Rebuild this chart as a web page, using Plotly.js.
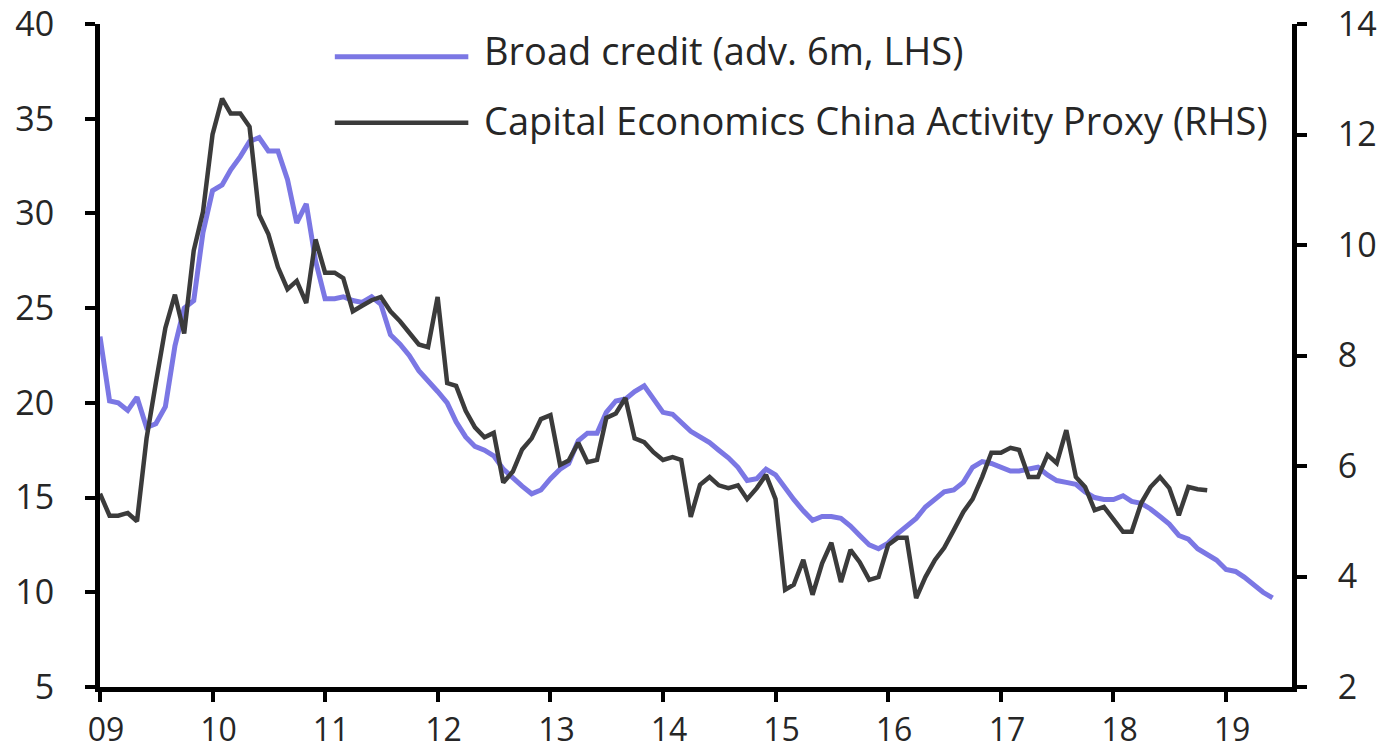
<!DOCTYPE html>
<html>
<head>
<meta charset="utf-8">
<script src="https://cdn.plot.ly/plotly-3.0.1.min.js"></script>
<style>
html,body{margin:0;padding:0;background:#fff;}
#chart{width:1398px;height:753px;}
</style>
</head>
<body>
<div id="chart"></div>
<script>
// Series names
const seriesNames = ["Broad credit (adv. 6m, LHS)", "Capital Economics China Activity Proxy (RHS)"];
// Monthly data starting Jan 2009
const startYear = 2009;
const broadCredit = [
 23.5,20.1,20.0,19.6,20.3,18.7,18.9,19.8,23.0,25.0,25.4,29.0,
 31.2,31.5,32.3,33.0,33.8,34.0,33.3,33.3,31.8,29.5,30.5,27.5,
 25.5,25.5,25.6,25.4,25.3,25.6,25.2,23.6,23.1,22.5,21.7,21.2,
 20.6,20.0,19.0,18.2,17.7,17.5,17.2,16.5,16.0,15.6,15.2,15.4,
 16.0,16.5,16.8,18.0,18.4,18.4,19.5,20.1,20.2,20.6,20.9,20.2,
 19.5,19.4,19.0,18.5,18.2,17.9,17.5,17.1,16.6,15.9,16.0,16.5,
 16.2,15.5,14.9,14.3,13.8,14.0,14.0,13.9,13.5,13.0,12.5,12.3,
 12.6,13.1,13.5,13.9,14.5,14.9,15.3,15.4,15.8,16.6,16.9,16.8,
 16.6,16.4,16.4,16.5,16.6,16.2,15.9,15.8,15.7,15.3,15.0,14.9,
 14.9,15.1,14.8,14.7,14.4,14.0,13.6,13.0,12.8,12.3,12.0,11.7,
 11.2,11.1,10.8,10.4,10.0,9.7
];
const activityProxy = [
 5.5,5.1,5.1,5.15,5.0,6.5,7.5,8.5,9.1,8.4,9.9,10.6,
 12.0,12.65,12.38,12.38,12.14,10.55,10.2,9.6,9.2,9.35,8.95,10.1,
 9.5,9.5,9.4,8.8,8.9,9.0,9.06,8.8,8.62,8.4,8.2,8.15,
 9.06,7.5,7.45,7.0,6.7,6.52,6.6,5.7,5.9,6.3,6.5,6.85,
 6.92,6.02,6.1,6.42,6.07,6.11,6.87,6.95,7.23,6.5,6.43,6.25,
 6.11,6.16,6.11,5.08,5.66,5.8,5.65,5.6,5.65,5.4,5.6,5.84,
 5.4,3.76,3.85,4.3,3.67,4.24,4.61,3.9,4.48,4.26,3.94,3.99,
 4.57,4.7,4.7,3.61,3.99,4.3,4.52,4.84,5.17,5.4,5.8,6.24,
 6.24,6.33,6.29,5.8,5.8,6.2,6.05,6.65,5.8,5.62,5.2,5.26,
 5.02,4.81,4.81,5.33,5.62,5.8,5.6,5.11,5.62,5.58,5.56
];
const xTickLabels = ["09","10","11","12","13","14","15","16","17","18","19"];

function monthDates(n){
  const out=[];
  for(let i=0;i<n;i++){
    const y=startYear+Math.floor(i/12), m=(i%12)+1;
    out.push(y+"-"+(m<10?"0":"")+m+"-01");
  }
  return out;
}
const tickVals = xTickLabels.map((t,i)=>(startYear+i)+"-01-01");

const blue = "#7b77e4";
const dark = "#3b3b3b";
const fontFam = "'Open Sans', 'Noto Sans', sans-serif";
const textColor = "#262626";

const traces = [
  {x: monthDates(broadCredit.length), y: broadCredit, type:"scatter", mode:"lines",
   name: seriesNames[0], line:{color:blue, width:5}, yaxis:"y"},
  {x: monthDates(activityProxy.length), y: activityProxy, type:"scatter", mode:"lines",
   name: seriesNames[1], line:{color:dark, width:4.5}, yaxis:"y2"}
];

const axisCommon = {showgrid:false, zeroline:false, showline:true, linecolor:"#000", linewidth:5,
  ticks:"outside", ticklen:10, tickwidth:4, tickcolor:"#000", ticklabeloverflow:"allow",
  tickfont:{family:fontFam, size:34, color:textColor}};

const legendX0 = 0.197, legendX1 = 0.309, legendTX = 0.3205;
const legendLineY = [0.9506, 0.851];
const legendTextY = [0.9615, 0.855];

const layout = {
  width:1398, height:753,
  margin:{l:100, r:106, t:24, b:66},
  paper_bgcolor:"#fff", plot_bgcolor:"#fff",
  showlegend:false,
  xaxis: Object.assign({}, axisCommon, {type:"date", range:["2009-01-01","2019-08-03"],
    tickvals:tickVals, ticktext:xTickLabels, ticklabelstandoff:1, ticklabelshift:6,
    tickfont:{family:fontFam, size:32, color:textColor}}),
  yaxis: Object.assign({}, axisCommon, {range:[5,40], dtick:5, tick0:5, ticklabelstandoff:24}),
  yaxis2: Object.assign({}, axisCommon, {range:[2,14], dtick:2, tick0:2, overlaying:"y", side:"right", ticklabelstandoff:24}),
  shapes: [
    {type:"line", xref:"paper", yref:"paper", x0:legendX0, x1:legendX1, y0:legendLineY[0], y1:legendLineY[0], line:{color:blue, width:5}},
    {type:"line", xref:"paper", yref:"paper", x0:legendX0, x1:legendX1, y0:legendLineY[1], y1:legendLineY[1], line:{color:dark, width:4.5}}
  ],
  annotations: seriesNames.map((n,i)=>({text:n, xref:"paper", yref:"paper", x:legendTX, y:legendTextY[i],
    xanchor:"left", yanchor:"middle", showarrow:false, font:{family:fontFam, size:38, color:textColor}}))
};

Plotly.newPlot("chart", traces, layout, {displayModeBar:false, staticPlot:true});
</script>
</body>
</html>
